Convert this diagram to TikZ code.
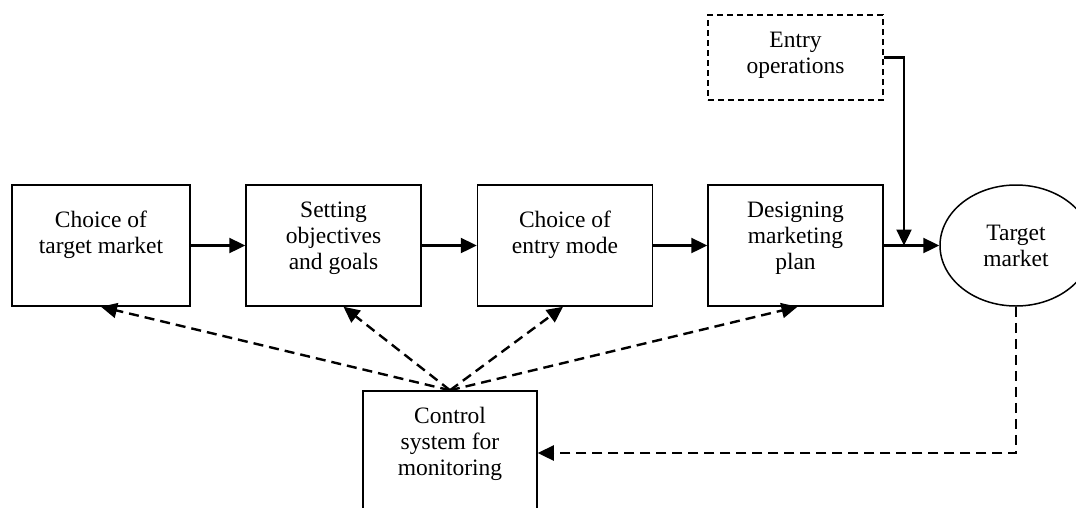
\documentclass[tikz,border=0pt]{standalone}
\usepackage{fontspec}
\setmainfont{Liberation Serif}
\usetikzlibrary{arrows.meta}
\usetikzlibrary{positioning}
\usetikzlibrary{shapes.geometric}

\tikzset{
    box/.style={draw, line width=1.5pt, minimum width=175pt, minimum height=121pt, inner sep=0pt},
    entrybox/.style={box, minimum height=85pt, dash pattern=on 6pt off 4pt},
    txt/.style={align=center, inner sep=0pt, font=\fontsize{23.5}{26}\selectfont},
    flow/.style={line width=2.4pt, -{Triangle[length=16pt, width=15pt]}},
    feedback/.style={flow, dash pattern=on 10pt off 6pt},
}

\begin{document}
\begin{tikzpicture}[x=1pt, y=-1pt]
    \useasboundingbox (0, 0) rectangle (1076, 507);
    % main chain
    \node[box, minimum width=178pt] (choice) at (101, 245.5) {};
    \node[txt, below=26.5pt of choice.north] (choicetxt) {Choice of\\target market};
    \node[box] (setting) at (333.5, 245.5) {};
    \node[txt, below=17.5pt of setting.north] (settingtxt) {Setting\\objectives\\and goals};
    \node[box] (mode) at (565, 245.5) {};
    \node[txt, below=26.5pt of mode.north] (modetxt) {Choice of\\entry mode};
    \node[box] (plan) at (795.5, 245.5) {};
    \node[txt, below=17.5pt of plan.north] (plantxt) {Designing\\marketing\\plan};
    \node[draw, ellipse, line width=1.5pt, minimum width=152pt, minimum height=121pt,
          inner sep=0pt, txt] (target) at (1016, 245.5) {Target\\market};
    % entry operations
    \node[entrybox] (entry) at (795.5, 57.5) {};
    \node[txt, below=17.5pt of entry.north] (entrytxt) {Entry\\operations};
    % control
    \node[box, minimum width=174pt, minimum height=124pt] (control) at (450, 453) {};
    \node[txt, below=16.5pt of control.north] (controltxt) {Control\\system for\\monitoring};
    \coordinate (join) at (904, 245.5);

    \draw[flow] (choice) -- (setting);
    \draw[flow] (setting) -- (mode);
    \draw[flow] (mode) -- (plan);
    \draw[flow] (plan) -- (target);
    \draw[flow] (entry.east) -| (join);

    \foreach \b/\s in {choice/0, setting/10, mode/-2, plan/2}
        \draw[feedback] (control.north) -- ([xshift=\s pt]\b.south);
    \draw[feedback] (target.south) |- (control.east);
\end{tikzpicture}
\end{document}
